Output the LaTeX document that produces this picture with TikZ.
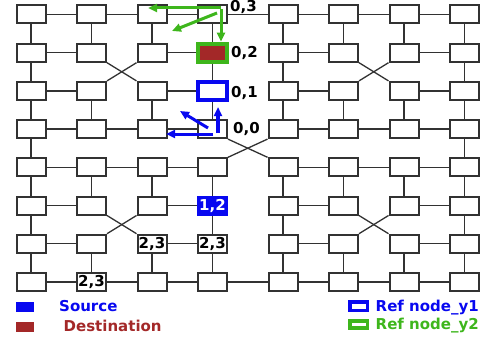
\documentclass[tikz,border=0pt]{standalone}
\usepackage{fontspec}
\setsansfont{DejaVu Sans}
\usetikzlibrary{arrows.meta}

\definecolor{srcblue}{RGB}{8,8,240}
\definecolor{dstbrown}{RGB}{163,40,40}
\definecolor{refgreen}{RGB}{62,182,28}
\definecolor{meshgray}{RGB}{50,50,50}

\begin{document}
\begin{tikzpicture}[x=1pt,y=-1pt,>={Triangle[length=9pt,width=8pt]},
                    font=\sffamily\bfseries\fontsize{15}{18}\selectfont,
                    mesh node/.style={draw=meshgray,line width=2pt,fill=white,inner sep=0pt,
                                      minimum width=29pt,minimum height=18pt,node contents={}},
                    link/.style={meshgray,line width=1.3pt},
                    hop/.style={->,line width=3pt},
                    tag/.style={anchor=base west,inner sep=0pt},
                    key/.style={inner sep=0pt,minimum width=18pt,minimum height=10pt},
                    hl24/.style={fill=dstbrown,draw=refgreen,line width=4pt},
                    hl34/.style={draw=srcblue,line width=4pt},
                    hl64/.style={fill=srcblue,draw=srcblue,text=white,node contents={1,2}},
                    hl73/.style={node contents={2,3}},
                    hl74/.style={node contents={2,3}},
                    hl82/.style={node contents={2,3}}]
  \useasboundingbox (0,0) rectangle (487,337);

  % routers, row by row
  \foreach \r/\y in {1/14.5,2/52.7,3/90.9,4/129.1,5/167.3,6/205.5,7/243.7,8/281.9}
    \foreach \c/\x in {1/31,2/91.5,3/152,4/212.5,5/283,6/343.5,7/404,8/464.5}
      \node[mesh node,name=n\r\c,at={(\x,\y)},hl\r\c/.try];

  % horizontal links
  \foreach \r in {1,8}
    \foreach \a/\b in {1/2,2/3,3/4,4/5,5/6,6/7,7/8}
      \draw[link] (n\r\a) -- (n\r\b);
  \foreach \r in {4,5}
    \foreach \a/\b in {1/2,2/3,3/4,5/6,6/7,7/8}
      \draw[link] (n\r\a) -- (n\r\b);
  \foreach \r in {2,3,6,7}
    \foreach \a/\b in {1/2,3/4,5/6,7/8}
      \draw[link] (n\r\a) -- (n\r\b);

  % vertical links
  \foreach \c in {1,8}
    \foreach \a/\b in {1/2,2/3,3/4,4/5,5/6,6/7,7/8}
      \draw[link] (n\a\c) -- (n\b\c);
  \foreach \c in {4,5}
    \foreach \a/\b in {1/2,2/3,3/4,5/6,6/7,7/8}
      \draw[link] (n\a\c) -- (n\b\c);
  \foreach \c in {2,3,6,7}
    \foreach \a/\b in {1/2,3/4,5/6,7/8}
      \draw[link] (n\a\c) -- (n\b\c);

  % crossed links
  \foreach \r/\c/\s/\d in {2/2/3/3,2/6/3/7,6/2/7/3,6/6/7/7,4/4/5/5} {
    \draw[link] (n\r\c.south east) -- (n\s\d.north west);
    \draw[link] (n\r\d.south west) -- (n\s\c.north east);
  }

  % ids beside the column
  \node[tag] (id03) at (230,12) {0,3};
  \node[tag] (id02) at (231,58) {0,2};
  \node[tag] (id01) at (231,97) {0,1};
  \node[tag] (id00) at (233,133) {0,0};

  % hops
  \coordinate (g left) at (221,8);
  \coordinate (g diag) at (217,13);
  \coordinate (g down) at (221,9);
  \coordinate (g west) at (148,8);
  \coordinate (g sw) at (172,31);
  \coordinate (b up) at (218,133);
  \coordinate (b diag) at (208,128);
  \coordinate (b left) at (213,134);
  \coordinate (b north) at (218,107);
  \coordinate (b nw) at (180,111);
  \coordinate (b west) at (166,134);
  \draw[hop,refgreen] (g left) -- (g west);
  \draw[hop,refgreen] (g diag) -- (g sw);
  \draw[hop,refgreen] (g down) -- ([xshift=8.5pt]n24.north);
  \draw[hop,srcblue,line width=3.5pt] (b up) -- (b north);
  \draw[hop,srcblue] (b diag) -- (b nw);
  \draw[hop,srcblue] (b left) -- (b west);

  % legend
  \node[key,fill=srcblue] (key src) at (25,307) {};
  \node[key,fill=dstbrown] (key dst) at (25,326.5) {};
  \node[key,draw=srcblue,line width=3.5pt,minimum width=17.5pt,minimum height=8.5pt] (key y1) at (358.5,306) {};
  \node[key,draw=refgreen,line width=3.5pt,minimum width=17.5pt,minimum height=7pt] (key y2) at (358.5,324.3) {};
  \node[tag,text=srcblue] (src text) at (59,311) {Source};
  \node[tag,text=dstbrown] (dst text) at (63.5,331) {Destination};
  \node[tag,text=srcblue] (y1 text) at (375.5,311) {Ref node\_y1};
  \node[tag,text=refgreen] (y2 text) at (375.5,329.5) {Ref node\_y2};
\end{tikzpicture}
\end{document}
